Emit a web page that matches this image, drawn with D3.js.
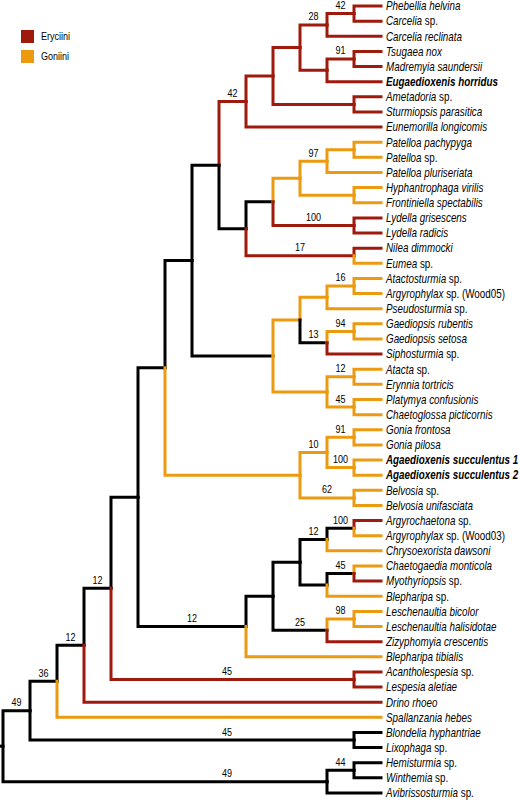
<!DOCTYPE html>
<html>
<head>
<meta charset="utf-8">
<script src="https://cdn.jsdelivr.net/npm/d3@7"></script>
<style>
  body { margin: 0; background: #fff; }
  svg { display: block; }
  text { font-family: "Liberation Sans", Arial, sans-serif; }
</style>
</head>
<body>
<svg id="chart" width="520" height="800"></svg>
<script>
// ---------- DATA ----------
const leafNames = [
  "Phebellia helvina", "Carcelia sp.", "Carcelia reclinata", "Tsugaea nox",
  "Madremyia saundersii", "Eugaedioxenis horridus", "Ametadoria sp.",
  "Sturmiopsis parasitica", "Eunemorilla longicomis", "Patelloa pachypyga",
  "Patelloa sp.", "Patelloa pluriseriata", "Hyphantrophaga virilis",
  "Frontiniella spectabilis", "Lydella grisescens", "Lydella radicis",
  "Nilea dimmocki", "Eumea sp.", "Atactosturmia sp.", "Argyrophylax sp. (Wood05)",
  "Pseudosturmia sp.", "Gaediopsis rubentis", "Gaediopsis setosa",
  "Siphosturmia sp.", "Atacta sp.", "Erynnia tortricis", "Platymya confusionis",
  "Chaetoglossa picticornis", "Gonia frontosa", "Gonia pilosa",
  "Agaedioxenis succulentus 1", "Agaedioxenis succulentus 2", "Belvosia sp.",
  "Belvosia unifasciata", "Argyrochaetona sp.", "Argyrophylax sp. (Wood03)",
  "Chrysoexorista dawsoni", "Chaetogaedia monticola", "Myothyriopsis sp.",
  "Blepharipa sp.", "Leschenaultia bicolor", "Leschenaultia halisidotae",
  "Zizyphomyia crescentis", "Blepharipa tibialis", "Acantholespesia sp.",
  "Lespesia aletiae", "Drino rhoeo", "Spallanzania hebes",
  "Blondelia hyphantriae", "Lixophaga sp.", "Hemisturmia sp.",
  "Winthemia sp.", "Avibrissosturmia sp."
];
// E = Eryciini, G = Goniini, B = ambiguous (black)
const leafStates = [
  "E","E","E","E","E","E","E","E","E",
  "G","G","G","G","G",
  "E","E","E","G",
  "G","G","G","G","G","E",
  "G","G","G","G","G","G","G","G","G","G",
  "E","G","G","G","E","G","G","G","E","G",
  "E","E","E","G",
  "B","B","B","B","B"
];
const boldLeaves = ["Eugaedioxenis horridus", "Agaedioxenis succulentus 1", "Agaedioxenis succulentus 2"];

// internal nodes: [id, child A, child B, support, state]
const internalNodes = [
  ["c1", "L0", "L1", 42, "E"],
  ["c2", "c1", "L2", 28, "E"],
  ["c3", "L3", "L4", 91, "E"],
  ["c4", "c3", "L5", null, "E"],
  ["c5", "c2", "c4", null, "E"],
  ["c6", "L6", "L7", null, "E"],
  ["c7", "c5", "c6", null, "E"],
  ["c8", "c7", "L8", 42, "E"],
  ["c9", "L9", "L10", null, "G"],
  ["c10", "c9", "L11", 97, "G"],
  ["c11", "L12", "L13", null, "G"],
  ["c12", "c10", "c11", null, "G"],
  ["c13", "L14", "L15", 100, "E"],
  ["c14", "c12", "c13", null, "B"],
  ["c15", "L16", "L17", 17, "E"],
  ["c16", "c14", "c15", null, "B"],
  ["c17", "c8", "c16", null, "B"],
  ["c18", "L18", "L19", 16, "G"],
  ["c19", "c18", "L20", null, "G"],
  ["c20", "L21", "L22", 94, "G"],
  ["c21", "c20", "L23", 13, "B"],
  ["c22", "c19", "c21", null, "G"],
  ["c23", "L24", "L25", 12, "G"],
  ["c24", "L26", "L27", 45, "G"],
  ["c25", "c23", "c24", null, "G"],
  ["c26", "c22", "c25", null, "B"],
  ["c27", "c17", "c26", null, "B"],
  ["c28", "L28", "L29", 91, "G"],
  ["c29", "L30", "L31", 100, "G"],
  ["c30", "c28", "c29", 10, "G"],
  ["c31", "L32", "L33", 62, "G"],
  ["c32", "c30", "c31", null, "G"],
  ["c33", "c27", "c32", null, "B"],
  ["c34", "L34", "L35", 100, "B"],
  ["c35", "c34", "L36", 12, "B"],
  ["c36", "L37", "L38", 45, "B"],
  ["c37", "c36", "L39", null, "B"],
  ["c38", "c35", "c37", null, "B"],
  ["c39", "L40", "L41", 98, "G"],
  ["c40", "c39", "L42", 25, "B"],
  ["c41", "c38", "c40", null, "B"],
  ["c42", "c41", "L43", 12, "B"],
  ["c43", "c33", "c42", null, "B"],
  ["c44", "L44", "L45", 45, "E"],
  ["c45", "c43", "c44", 12, "B"],
  ["c46", "c45", "L46", 12, "B"],
  ["c47", "c46", "L47", 36, "B"],
  ["c48", "L48", "L49", 45, "B"],
  ["c49", "c47", "c48", 49, "B"],
  ["c50", "L50", "L51", 44, "B"],
  ["c51", "c50", "L52", 49, "B"],
  ["root", "c49", "c51", null, "B"]
];

const legendItems = [["E", "Eryciini"], ["G", "Goniini"]];

// ---------- BUILD ----------
const colors = { E: "#9e1a0c", G: "#ec9a10", B: "#000000" };
const NARROW = 0.82; // horizontal condensing to mimic a narrow sans face
const byId = {};
leafNames.forEach((n, i) => { byId["L" + i] = { id: "L" + i, name: n, state: leafStates[i] }; });
internalNodes.forEach(([id, a, b, s, st]) => { byId[id] = { id, kids: [a, b], support: s, state: st }; });
function resolve(id) {
  const n = byId[id];
  if (n.kids) n.children = n.kids.map(resolve);
  return n;
}
const root = d3.hierarchy(resolve("root"), d => d.children);
d3.cluster().nodeSize([1, 1]).separation(() => 1)(root);

const leaves = root.leaves();
const yScale = d3.scaleLinear().domain(d3.extent(leaves, d => d.x)).range([6, 793]);
const xScale = d3.scaleLinear().domain([0, d3.max(leaves, d => d.y)]).range([3, 381]);

const svg = d3.select("#chart");
svg.append("rect").attr("width", 520).attr("height", 800).attr("fill", "#fff");

const g = svg.append("g");
const links = root.links();

// root stub
g.append("path")
  .attr("d", `M0,${yScale(root.x)}H${xScale(root.y)}`)
  .attr("stroke", colors[root.data.state]).attr("stroke-width", 3).attr("fill", "none");

g.selectAll("path.branch").data(links).join("path")
  .attr("class", "branch")
  .attr("fill", "none")
  .attr("stroke", d => colors[d.target.data.state])
  .attr("stroke-width", 3)
  .attr("stroke-linecap", "square")
  .attr("stroke-linejoin", "miter")
  .attr("d", d => `M${xScale(d.source.y)},${yScale(d.source.x)}V${yScale(d.target.x)}H${xScale(d.target.y)}`);

// support labels
g.selectAll("text.support").data(links.filter(d => d.target.data.support != null)).join("text")
  .attr("class", "support")
  .attr("font-size", 11)
  .attr("text-anchor", "middle")
  .attr("transform", d => {
    const x0 = xScale(d.source.y), x1 = xScale(d.target.y);
    const span = d.target.y - d.source.y;
    const x = span >= 9 ? xScale(8.3) : (x0 + x1) / 2;
    return `translate(${x},${yScale(d.target.x) - 4.5}) scale(${NARROW},1)`;
  })
  .text(d => d.target.data.support);

// leaf labels
const lt = g.selectAll("text.leaf").data(leaves).join("text")
  .attr("class", "leaf")
  .attr("font-size", 12)
  .attr("transform", d => `translate(${xScale(d.y) + 5},${yScale(d.x)}) scale(${NARROW},1)`)
  .attr("dy", "0.36em")
  .attr("font-weight", d => boldLeaves.includes(d.data.name) ? "bold" : "normal");
lt.each(function(d) {
  const name = d.data.name;
  const t = d3.select(this);
  const idx = name.indexOf(" sp.");
  if (idx >= 0) {
    t.append("tspan").attr("font-style", "italic").text(name.slice(0, idx));
    t.append("tspan").text(name.slice(idx));
  } else {
    t.append("tspan").attr("font-style", "italic").text(name);
  }
});

// legend
const lg = svg.append("g");
const legY = d3.scaleBand().domain(legendItems.map(d => d[0])).range([30, 70]);
legendItems.forEach(([k, label]) => {
  lg.append("rect").attr("x", 21).attr("y", legY(k)).attr("width", 13).attr("height", 13).attr("fill", colors[k]);
  lg.append("text")
    .attr("transform", `translate(41,${legY(k) + 6.5}) scale(${NARROW},1)`)
    .attr("dy", "0.36em")
    .attr("font-size", 11).text(label);
});
</script>
</body>
</html>
